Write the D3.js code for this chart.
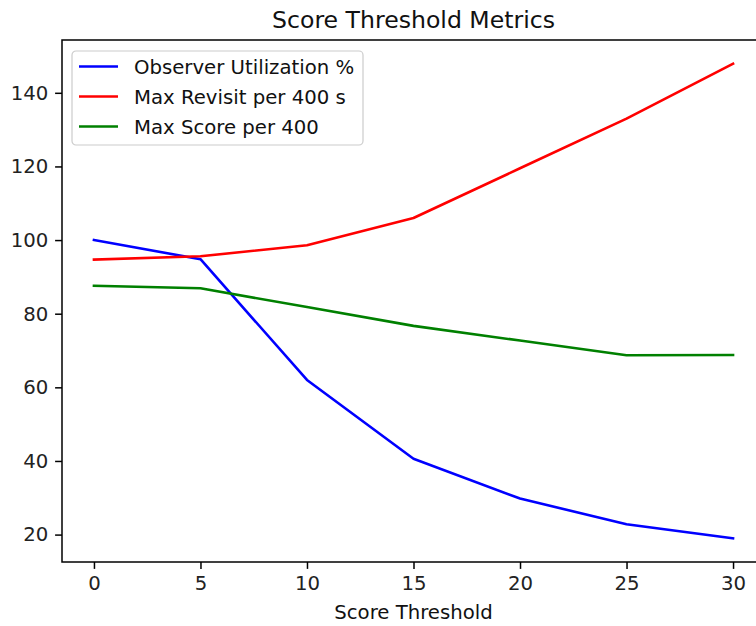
<!DOCTYPE html>
<html>
<head>
<meta charset="utf-8">
<script src="https://cdn.jsdelivr.net/npm/d3@7"></script>
<style>
  html, body { margin: 0; padding: 0; background: #fff; }
  svg { display: block; font-family: "DejaVu Sans", sans-serif; }
</style>
</head>
<body>
<svg id="chart" width="756" height="626"></svg>
<script>
// Score threshold sweep
const thresholds = [0, 5, 10, 15, 20, 25, 30];
const utilization = [100, 94.8, 62, 40.6, 29.8, 22.8, 19];
const revisit = [94.7, 95.6, 98.6, 106, 119.5, 133, 147.9];
const maxScore = [87.6, 86.9, 81.8, 76.7, 72.7, 68.7, 68.8];

const xTicks = [0, 5, 10, 15, 20, 25, 30];
const yTicks = [20, 40, 60, 80, 100, 120, 140];

const seriesNames = ["Observer Utilization %", "Max Revisit per 400 s", "Max Score per 400"];
const seriesColors = ["#0000ff", "#ff0000", "#008000"];
const seriesValues = [utilization, revisit, maxScore];

const svg = d3.select("#chart");
const plot = { left: 62, right: 765, top: 40, bottom: 562 };
const fs = 19.7;        // tick / legend / label font size
const tickLen = 6.9, tickPad = 6.9;

// x padded by 5% of the data span on each side
const xMin = d3.min(thresholds), xMax = d3.max(thresholds);
const xPad = (xMax - xMin) * 0.05;
const x = d3.scaleLinear().domain([xMin - xPad, xMax + xPad]).range([plot.left, plot.right]);

const all = seriesValues.flat();
const yMin = d3.min(all), yMax = d3.max(all);
const yPad = (yMax - yMin) * 0.05;
const y = d3.scaleLinear().domain([yMin - yPad, yMax + yPad]).range([plot.bottom, plot.top]);

// series lines
const line = d3.line().x((d, i) => x(thresholds[i])).y(d => y(d));
seriesValues.forEach((vals, k) => {
  svg.append("path")
    .datum(vals)
    .attr("fill", "none")
    .attr("stroke", seriesColors[k])
    .attr("stroke-width", 2.6)
    .attr("stroke-linejoin", "round")
    .attr("stroke-linecap", "square")
    .attr("d", line);
});

// axes
const xAxis = d3.axisBottom(x).tickValues(xTicks).tickSize(tickLen).tickPadding(tickPad).tickFormat(d3.format("d"));
const yAxis = d3.axisLeft(y).tickValues(yTicks).tickSize(tickLen).tickPadding(tickPad).tickFormat(d3.format("d"));

const gx = svg.append("g").attr("transform", `translate(0,${plot.bottom})`).call(xAxis);
const gy = svg.append("g").attr("transform", `translate(${plot.left},0)`).call(yAxis);
[gx, gy].forEach(g => {
  g.select(".domain").remove();
  g.selectAll(".tick line").attr("stroke", "#000").attr("stroke-width", 1.5);
  g.selectAll(".tick text").attr("fill", "#222").style("font-size", fs + "px")
    .style("font-family", "DejaVu Sans, sans-serif");
});
gx.selectAll(".tick text").attr("dy", null).attr("y", tickLen + tickPad + 14.6);

// frame
svg.append("rect")
  .attr("x", plot.left).attr("y", plot.top)
  .attr("width", plot.right - plot.left).attr("height", plot.bottom - plot.top)
  .attr("fill", "none").attr("stroke", "#000").attr("stroke-width", 1.5);

// title and axis label
svg.append("text")
  .attr("x", (plot.left + plot.right) / 2).attr("y", 28)
  .attr("text-anchor", "middle").attr("fill", "#111")
  .style("font-size", "23.6px")
  .text("Score Threshold Metrics");

svg.append("text")
  .attr("x", (plot.left + plot.right) / 2).attr("y", 619)
  .attr("text-anchor", "middle").attr("fill", "#111")
  .style("font-size", fs + "px")
  .text("Score Threshold");

// legend
const lg = svg.append("g").attr("transform", "translate(72,51)");
lg.append("rect")
  .attr("width", 291).attr("height", 94).attr("rx", 4)
  .attr("fill", "#fff").attr("fill-opacity", 0.8)
  .attr("stroke", "#cccccc").attr("stroke-width", 1.2);
seriesNames.forEach((name, k) => {
  const yy = 15.5 + k * 30;
  lg.append("line")
    .attr("x1", 7).attr("x2", 46).attr("y1", yy).attr("y2", yy)
    .attr("stroke", seriesColors[k]).attr("stroke-width", 2.6);
  lg.append("text")
    .attr("x", 62).attr("y", yy).attr("dy", "0.36em")
    .attr("fill", "#111").style("font-size", fs + "px")
    .text(name);
});
</script>
</body>
</html>
